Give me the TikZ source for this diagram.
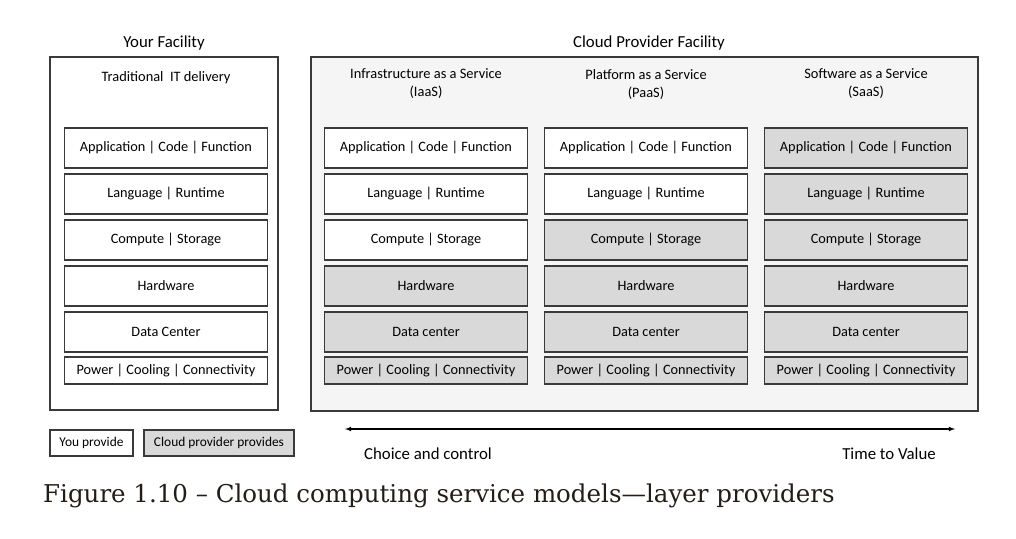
\documentclass[tikz,border=0pt]{standalone}
\usepackage{fontspec}
\setmainfont{Carlito}
\newfontfamily\captionfont{DejaVu Serif}
\usepackage{tikz}
\usetikzlibrary{arrows}

\definecolor{layergray}{HTML}{D9D9D9}
\definecolor{cloudgray}{HTML}{F5F5F5}
\definecolor{edgegray}{HTML}{3A3A3A}
\definecolor{captionink}{HTML}{231C17}

\tikzset{
  layer/.style={draw=edgegray, line width=1.1pt, fill=white, minimum width=203pt,
                minimum height=40pt, inner sep=0pt, font=\fontsize{14.3}{16}\selectfont},
  power/.style={layer, minimum height=27pt},
  provided/.style={fill=layergray},
  facility/.style={draw=edgegray, line width=1.1pt},
  heading/.style={font=\fontsize{16.8}{19}\selectfont},
  coltitle/.style={align=center, font=\fontsize{14.4}{18}\selectfont},
  legendbox/.style={draw=edgegray, line width=1.1pt, minimum height=26pt, inner sep=0pt,
                    font=\fontsize{13.4}{15}\selectfont}
}

\begin{document}
\begin{tikzpicture}[x=1pt, y=-1pt, >=latex]
            \useasboundingbox (0,0) rectangle (1016,538);
            % facilities
            \draw [facility] (50,57) rectangle (278,410);
            \draw [facility, fill=cloudgray] (311,57) rectangle (978,411);
            \node [heading] (own) at (164,43) {Your Facility};
            \node [heading] (cloud) at (649,43) {Cloud Provider Facility};
            \node [coltitle] (trad) at (166,78) {Traditional \ IT delivery};
            \node [coltitle] (iaas) at (426,84) {Infrastructure as a Service\\(IaaS)};
            \node [coltitle] (paas) at (646,84) {Platform as a Service\\(PaaS)};
            \node [coltitle] (saas) at (866,84) {Software as a Service\\(SaaS)};

            % traditional stack
            \node [layer] (t1) at (166,148) {Application | Code | Function};
            \node [layer] (t2) at (166,194) {Language | Runtime};
            \node [layer] (t3) at (166,240) {Compute | Storage};
            \node [layer] (t4) at (166,286) {Hardware};
            \node [layer] (t5) at (166,332) {Data Center};
            \node [power] (t6) at (166,370.5) {Power | Cooling | Connectivity};

            % IaaS stack
            \node [layer] (i1) at (426,148) {Application | Code | Function};
            \node [layer] (i2) at (426,194) {Language | Runtime};
            \node [layer] (i3) at (426,240) {Compute | Storage};
            \node [layer, provided] (i4) at (426,286) {Hardware};
            \node [layer, provided] (i5) at (426,332) {Data center};
            \node [power, provided] (i6) at (426,370.5) {Power | Cooling | Connectivity};

            % PaaS stack
            \node [layer] (p1) at (646,148) {Application | Code | Function};
            \node [layer] (p2) at (646,194) {Language | Runtime};
            \node [layer, provided] (p3) at (646,240) {Compute | Storage};
            \node [layer, provided] (p4) at (646,286) {Hardware};
            \node [layer, provided] (p5) at (646,332) {Data center};
            \node [power, provided] (p6) at (646,370.5) {Power | Cooling | Connectivity};

            % SaaS stack
            \node [layer, provided] (s1) at (866,148) {Application | Code | Function};
            \node [layer, provided] (s2) at (866,194) {Language | Runtime};
            \node [layer, provided] (s3) at (866,240) {Compute | Storage};
            \node [layer, provided] (s4) at (866,286) {Hardware};
            \node [layer, provided] (s5) at (866,332) {Data center};
            \node [power, provided] (s6) at (866,370.5) {Power | Cooling | Connectivity};

            % legend
            \node [legendbox, fill=white, minimum width=83pt] (you) at (91.5,443) {You provide};
            \node [legendbox, provided, minimum width=150pt] (prov) at (219,443) {Cloud provider provides};

            % choice vs. time
            \coordinate (cc) at (345,429);
            \coordinate (tv) at (955,429);
            \draw [<->, line width=1.1pt] (cc) -- (tv);
            \node [heading] (choice) at (428,454) {Choice and control};
            \node [heading] (time) at (889,454) {Time to Value};

            \node [anchor=base west, inner sep=0pt, text=captionink,
                   font=\captionfont\fontsize{24.5}{28}\selectfont] (caption) at (43,502)
                  {Figure 1.10 – Cloud computing service models—layer providers};
\end{tikzpicture}
\end{document}
